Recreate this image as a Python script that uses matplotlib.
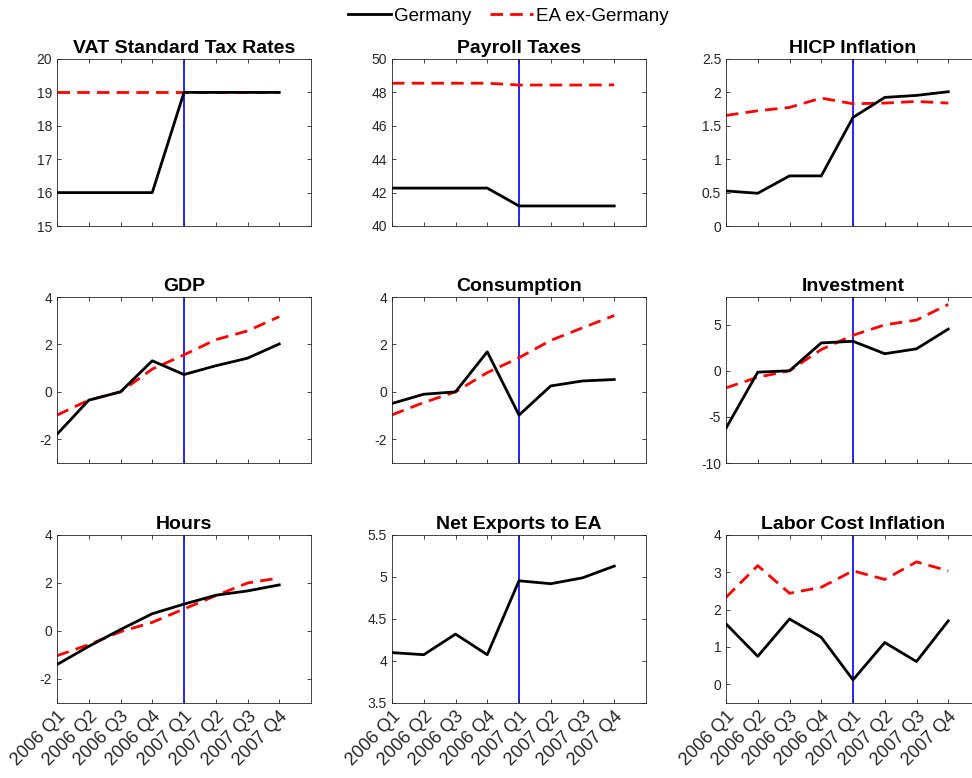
import matplotlib
matplotlib.use("Agg")
import matplotlib.pyplot as plt
from matplotlib.ticker import FuncFormatter
import numpy as np

plt.rcParams['font.family'] = ['Liberation Sans', 'DejaVu Sans']

quarters = ["2006 Q1", "2006 Q2", "2006 Q3", "2006 Q4",
            "2007 Q1", "2007 Q2", "2007 Q3", "2007 Q4"]

titles = ["VAT Standard Tax Rates", "Payroll Taxes", "HICP Inflation",
          "GDP", "Consumption", "Investment",
          "Hours", "Net Exports to EA", "Labor Cost Inflation"]

vat_de = [16, 16, 16, 16, 19, 19, 19, 19]
vat_ea = [19, 19, 19, 19, 19, 19, 19, 19]
payroll_de = [42.27, 42.27, 42.27, 42.27, 41.2, 41.2, 41.2, 41.2]
payroll_ea = [48.55, 48.55, 48.55, 48.55, 48.44, 48.44, 48.44, 48.45]
hicp_de = [0.525, 0.49, 0.75, 0.75, 1.625, 1.925, 1.955, 2.01]
hicp_ea = [1.655, 1.725, 1.775, 1.915, 1.83, 1.84, 1.865, 1.84]
gdp_de = [-1.79, -0.35, 0.0, 1.31, 0.73, 1.1, 1.42, 2.02]
gdp_ea = [-0.98, -0.35, 0.0, 0.96, 1.56, 2.2, 2.57, 3.17]
cons_de = [-0.49, -0.1, 0.0, 1.69, -0.98, 0.25, 0.46, 0.52]
cons_ea = [-0.97, -0.45, 0.0, 0.81, 1.44, 2.17, 2.7, 3.22]
inv_de = [-6.23, -0.15, 0.0, 3.02, 3.2, 1.85, 2.38, 4.52]
inv_ea = [-1.85, -0.7, 0.0, 2.3, 3.85, 4.98, 5.5, 7.2]
hours_de = [-1.4, -0.64, 0.06, 0.72, 1.12, 1.49, 1.67, 1.92]
hours_ea = [-1.03, -0.57, -0.03, 0.36, 0.92, 1.47, 2.0, 2.21]
netx_de = [4.10, 4.075, 4.32, 4.075, 4.955, 4.92, 4.99, 5.13]
labor_de = [1.62, 0.75, 1.75, 1.26, 0.12, 1.12, 0.61, 1.70]
labor_ea = [2.33, 3.18, 2.44, 2.6, 3.04, 2.81, 3.28, 3.04]

series_de = [vat_de, payroll_de, hicp_de, gdp_de, cons_de, inv_de,
             hours_de, netx_de, labor_de]
series_ea = [vat_ea, payroll_ea, hicp_ea, gdp_ea, cons_ea, inv_ea,
             hours_ea, None, labor_ea]

ylims = [(15, 20), (40, 50), (0, 2.5), (-3, 4), (-3, 4), (-10, 8),
         (-3, 4), (3.5, 5.5), (-0.5, 4)]
yticks = [np.arange(15, 20.5, 1), np.arange(40, 50.5, 2), np.arange(0, 2.6, 0.5),
          [-2, 0, 2, 4], [-2, 0, 2, 4], [-10, -5, 0, 5],
          [-2, 0, 2, 4], np.arange(3.5, 5.6, 0.5), [0, 1, 2, 3, 4]]

W, H = 972, 778
fig = plt.figure(figsize=(W / 100, H / 100), dpi=100)

lefts = [57, 392, 726]
tops = [59, 297, 535]
bottoms = [226, 463, 703]
aw = 254

x = np.arange(1, 9)
gray = (0.15, 0.15, 0.15)
de_line = ea_line = None
for i in range(9):
    r, c = divmod(i, 3)
    ax = fig.add_axes([lefts[c] / W, 1 - bottoms[r] / H, aw / W,
                       (bottoms[r] - tops[r]) / H])
    ax.axvline(5, color=(0, 0, 1), lw=1.2, zorder=1)
    l1, = ax.plot(x, series_de[i], color='black', lw=2.0, zorder=3)
    if series_ea[i] is not None:
        l2, = ax.plot(x, series_ea[i], color='red', lw=2.0,
                      linestyle=(0, (4.5, 2.6)), zorder=2)
        ea_line = l2
    de_line = l1
    ax.set_xlim(1, 9)
    ax.set_ylim(*ylims[i])
    ax.set_yticks(yticks[i])
    ax.yaxis.set_major_formatter(FuncFormatter(lambda v, p: '%g' % v))
    ax.set_xticks(x)
    if r == 2:
        ax.set_xticklabels(quarters, rotation=45, ha='right',
                           rotation_mode='anchor', fontsize=13)
    else:
        ax.set_xticklabels([])
    ax.tick_params(direction='in', top=True, right=True, length=3,
                   width=0.6, colors=gray, labelcolor=gray)
    ax.tick_params(axis='y', labelsize=10)
    for s in ax.spines.values():
        s.set_color(gray)
        s.set_linewidth(0.6)
    ax.set_title(titles[i], fontsize=14, fontweight='bold', pad=4)

fig.legend([de_line, ea_line], ["Germany", "EA ex-Germany"],
           loc='upper center', bbox_to_anchor=(0.523, 1.012), ncol=2,
           frameon=False, fontsize=13.5, handlelength=2.3,
           handletextpad=0.15, columnspacing=1.0)

fig.savefig("out.png", dpi=100)
